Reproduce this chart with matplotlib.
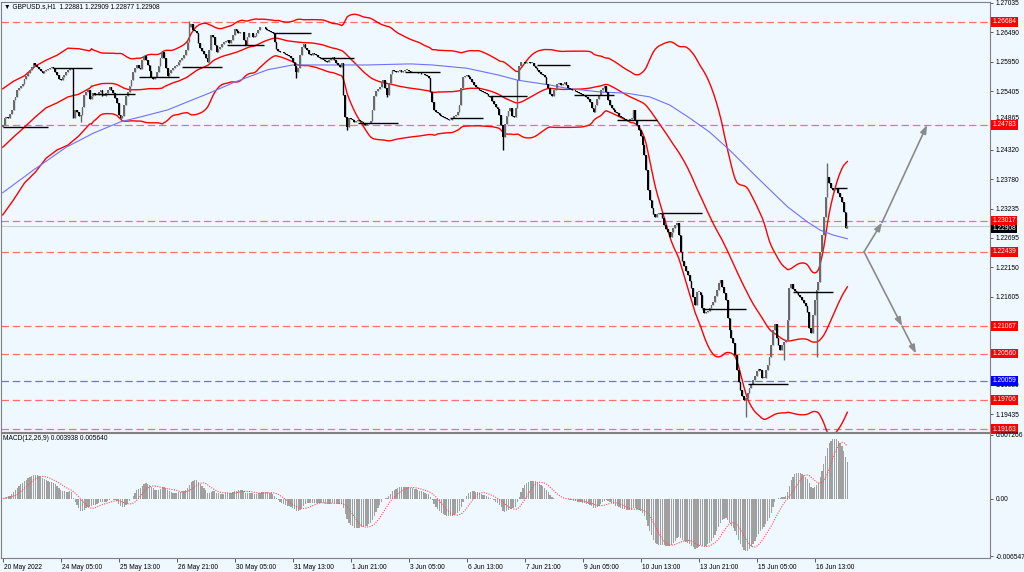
import numpy as np
import pandas as pd
import matplotlib
matplotlib.use("Agg")
import matplotlib.pyplot as plt
import matplotlib.transforms as mtransforms

plt.rcParams['font.family'] = ['Liberation Sans', 'DejaVu Sans']

symbol_title = "\u25bc GBPUSD.s,H1  1.22881 1.22909 1.22877 1.22908"
macd_title = "MACD(12,26,9) 0.003938 0.005640"

# hourly closes, 20 May 21:00 -> 17 Jun 08:00
first_open = 1.2474
closes = [
    1.2478, 1.2491, 1.2493, 1.2491, 1.2498, 1.2506, 1.2524, 1.2530, 1.2543, 1.2546,
    1.2550, 1.2554, 1.2563, 1.2569, 1.2574, 1.2580, 1.2585, 1.2593, 1.2589, 1.2585,
    1.2582, 1.2578, 1.2574, 1.2578, 1.2580, 1.2582, 1.2583, 1.2585, 1.2583, 1.2576,
    1.2570, 1.2563, 1.2561, 1.2567, 1.2570, 1.2576, 1.2580, 1.2583, 1.2582, 1.2491,
    1.2506, 1.2502, 1.2495, 1.2497, 1.2511, 1.2534, 1.2539, 1.2543, 1.2526, 1.2532,
    1.2537, 1.2534, 1.2534, 1.2539, 1.2543, 1.2532, 1.2532, 1.2537, 1.2543, 1.2548,
    1.2543, 1.2537, 1.2528, 1.2519, 1.2497, 1.2491, 1.2495, 1.2515, 1.2532, 1.2539,
    1.2550, 1.2561, 1.2576, 1.2583, 1.2589, 1.2583, 1.2582, 1.2598, 1.2606, 1.2598,
    1.2589, 1.2578, 1.2567, 1.2563, 1.2567, 1.2576, 1.2587, 1.2602, 1.2613, 1.2602,
    1.2583, 1.2569, 1.2574, 1.2580, 1.2583, 1.2587, 1.2589, 1.2594, 1.2598, 1.2602,
    1.2607, 1.2617, 1.2631, 1.2659, 1.2665, 1.2654, 1.2652, 1.2648, 1.2630, 1.2620,
    1.2615, 1.2609, 1.2602, 1.2594, 1.2617, 1.2644, 1.2641, 1.2626, 1.2613, 1.2619,
    1.2622, 1.2628, 1.2631, 1.2633, 1.2635, 1.2630, 1.2635, 1.2644, 1.2655, 1.2652,
    1.2648, 1.2650, 1.2650, 1.2635, 1.2626, 1.2641, 1.2648, 1.2648, 1.2641, 1.2643,
    1.2648, 1.2654, 1.2659, 1.2659, 1.2659, 1.2655, 1.2654, 1.2652, 1.2650, 1.2648,
    1.2631, 1.2619, 1.2615, 1.2613, 1.2613, 1.2611, 1.2609, 1.2607, 1.2606, 1.2602,
    1.2594, 1.2587, 1.2576, 1.2583, 1.2607, 1.2622, 1.2628, 1.2620, 1.2617, 1.2609,
    1.2607, 1.2611, 1.2609, 1.2607, 1.2604, 1.2602, 1.2600, 1.2598, 1.2596, 1.2594,
    1.2598, 1.2600, 1.2604, 1.2598, 1.2593, 1.2589, 1.2585, 1.2593, 1.2534, 1.2493,
    1.2474, 1.2491, 1.2489, 1.2487, 1.2484, 1.2486, 1.2487, 1.2486, 1.2484, 1.2480,
    1.2478, 1.2480, 1.2482, 1.2486, 1.2506, 1.2532, 1.2541, 1.2545, 1.2548, 1.2556,
    1.2561, 1.2546, 1.2534, 1.2556, 1.2572, 1.2580, 1.2578, 1.2576, 1.2578, 1.2580,
    1.2576, 1.2578, 1.2580, 1.2580, 1.2578, 1.2576, 1.2576, 1.2576, 1.2576, 1.2574,
    1.2574, 1.2572, 1.2572, 1.2570, 1.2569, 1.2565, 1.2539, 1.2521, 1.2506, 1.2502,
    1.2500, 1.2497, 1.2495, 1.2493, 1.2491, 1.2489, 1.2487, 1.2487, 1.2491, 1.2495,
    1.2497, 1.2502, 1.2515, 1.2546, 1.2567, 1.2569, 1.2570, 1.2567, 1.2563, 1.2558,
    1.2552, 1.2548, 1.2546, 1.2543, 1.2541, 1.2539, 1.2537, 1.2535, 1.2532, 1.2530,
    1.2523, 1.2517, 1.2511, 1.2508, 1.2497, 1.2478, 1.2456, 1.2480, 1.2495, 1.2504,
    1.2510, 1.2495, 1.2493, 1.2510, 1.2561, 1.2587, 1.2594, 1.2594, 1.2593, 1.2594,
    1.2594, 1.2593, 1.2593, 1.2587, 1.2583, 1.2580, 1.2576, 1.2572, 1.2570, 1.2567,
    1.2554, 1.2546, 1.2535, 1.2532, 1.2543, 1.2546, 1.2554, 1.2556, 1.2552, 1.2554,
    1.2558, 1.2552, 1.2546, 1.2545, 1.2543, 1.2543, 1.2541, 1.2539, 1.2537, 1.2535,
    1.2534, 1.2532, 1.2530, 1.2526, 1.2521, 1.2510, 1.2502, 1.2515, 1.2526, 1.2534,
    1.2543, 1.2546, 1.2550, 1.2539, 1.2524, 1.2515, 1.2510, 1.2506, 1.2502, 1.2500,
    1.2495, 1.2493, 1.2491, 1.2489, 1.2487, 1.2487, 1.2489, 1.2491, 1.2506, 1.2487,
    1.2478, 1.2469, 1.2458, 1.2441, 1.2423, 1.2395, 1.2358, 1.2340, 1.2325, 1.2314,
    1.2308, 1.2314, 1.2316, 1.2314, 1.2306, 1.2293, 1.2286, 1.2281, 1.2271, 1.2281,
    1.2288, 1.2293, 1.2297, 1.2275, 1.2244, 1.2227, 1.2218, 1.2208, 1.2201, 1.2190,
    1.2177, 1.2160, 1.2146, 1.2170, 1.2170, 1.2164, 1.2140, 1.2131, 1.2133, 1.2135,
    1.2140, 1.2146, 1.2151, 1.2162, 1.2173, 1.2186, 1.2192, 1.2179, 1.2168, 1.2155,
    1.2122, 1.2100, 1.2085, 1.2076, 1.2053, 1.2026, 1.2003, 1.1989, 1.1978, 1.1970,
    1.1974, 1.1983, 1.1992, 1.2000, 1.2007, 1.2015, 1.2024, 1.2027, 1.2026, 1.2011,
    1.2011, 1.2026, 1.2035, 1.2050, 1.2072, 1.2100, 1.2111, 1.2085, 1.2072, 1.2063,
    1.2072, 1.2077, 1.2081, 1.2118, 1.2177, 1.2184, 1.2175, 1.2172, 1.2168, 1.2164,
    1.2160, 1.2155, 1.2149, 1.2144, 1.2133, 1.2103, 1.2094, 1.2127, 1.2155, 1.2173,
    1.2188, 1.2244, 1.2275, 1.2308, 1.2345, 1.2382, 1.2371, 1.2362, 1.2358, 1.2360,
    1.2362, 1.2353, 1.2345, 1.2336, 1.2318, 1.2288, 1.22908,
]

# long wicks visible on the chart
spike_idx = [43, 103, 162, 190, 212, 276, 410, 431, 449, 455]
spike_px = [1.2484, 1.2670, 1.2565, 1.2469, 1.2530, 1.2432, 1.1939, 1.2044, 1.2050, 1.2408]

# bollinger bands before enough bars are on screen
bb_head_idx = [0, 6, 12, 18, 24, 30, 36, 42, 48]
bb_head_up = [1.2545, 1.2559, 1.2569, 1.2587, 1.2598, 1.2607, 1.2620, 1.2619, 1.2615]
bb_head_mid = [1.2437, 1.2456, 1.2474, 1.2493, 1.2510, 1.2519, 1.2530, 1.2535, 1.2546]
bb_head_lo = [1.2312, 1.2340, 1.2371, 1.2391, 1.2417, 1.2432, 1.2441, 1.2458, 1.2480]

# slow moving average (blue)
ma_idx = [0, 17, 35, 50, 65, 76, 91, 102, 114, 127, 146, 160, 186, 201, 225, 237,
          256, 274, 284, 302, 311, 330, 344, 357, 368, 379, 390, 401, 416, 433,
          444, 451, 458, 466]
ma_px = [1.2353, 1.2395, 1.2437, 1.2463, 1.2484, 1.2493, 1.2506, 1.2521, 1.2537,
         1.2556, 1.2580, 1.2589, 1.2589, 1.2589, 1.2591, 1.2589, 1.2583, 1.2570,
         1.2561, 1.2552, 1.2546, 1.2539, 1.2537, 1.2530, 1.2515, 1.2491, 1.2465,
         1.2432, 1.2382, 1.2327, 1.2299, 1.2284, 1.2275, 1.2268]

# daily open segments
day_start = [0, 28, 50, 75, 99, 124, 149, 175, 196, 222, 247, 269, 295, 315, 339, 364, 386, 411, 436, 459]
day_end = [25, 49, 73, 97, 121, 144, 170, 194, 218, 241, 265, 289, 313, 337, 361, 386, 410, 433, 458, 466]
day_open = [1.2474, 1.2583, 1.2535, 1.2567, 1.2585, 1.2626, 1.2648, 1.2602, 1.2482, 1.2576,
            1.2491, 1.2532, 1.2589, 1.2534, 1.2487, 1.2316, 1.2138, 1.1999, 1.2170, 1.2362]

red_levels = [1.26684, 1.24783, 1.23017, 1.22439, 1.21067, 1.20560, 1.19706, 1.19163]
blue_levels = [1.20059]
last_price = 1.22908

# projection arrows (bar index, price)
arrow_up_idx = [475.2, 485.1, 510.0]
arrow_up_px = [1.22439, 1.2298, 1.24783]
arrow_dn_idx = [475.2, 496.2, 503.9]
arrow_dn_px = [1.22439, 1.21067, 1.20560]

price_ticks = [1.27035, 1.26490, 1.25950, 1.25405, 1.24865, 1.24320, 1.23780, 1.23235,
               1.22695, 1.22150, 1.21605, 1.21065, 1.20520, 1.19980, 1.19435]
# these two sit fully under the level boxes on the original
hidden_ticks = [1.21065, 1.20520]
macd_ticks = [0.007266, 0.0, -0.006547]
macd_tick_labels = ['0.007266', '0.00', '-0.006547']
time_labels = ['20 May 2022', '24 May 05:00', '25 May 13:00', '26 May 21:00', '30 May 05:00',
               '31 May 13:00', '1 Jun 21:00', '3 Jun 05:00', '6 Jun 13:00', '7 Jun 21:00',
               '9 Jun 05:00', '10 Jun 13:00', '13 Jun 21:00', '15 Jun 05:00', '16 Jun 13:00']
time_step = 32

BG = '#F0F8FF'
FS = 4.8

#############################################
##            indicators                   ##
#############################################
c = np.array(closes)
n = len(c)
idx = np.arange(n)
o = np.r_[first_open, c[:-1]]
hi = np.maximum(o, c)
lo = np.minimum(o, c)
for k, p in zip(spike_idx, spike_px):
    hi[k] = max(hi[k], p)
    lo[k] = min(lo[k], p)

s = pd.Series(c)
bb_mid = s.rolling(50).mean()
bb_sd = s.rolling(50).std(ddof=0)
bb_up = bb_mid + 2 * bb_sd
bb_lo = bb_mid - 2 * bb_sd

ema12 = s.ewm(span=12, adjust=False).mean()
ema26 = s.ewm(span=26, adjust=False).mean()
macd = ema12 - ema26
signal = macd.rolling(9, min_periods=1).mean()

#############################################
##            figure                       ##
#############################################
fig = plt.figure(figsize=(10.24, 5.72), dpi=100, facecolor=BG)
ax = fig.add_axes([1 / 1024, 140 / 572, 989 / 1024, 430 / 572], facecolor=BG)
ax2 = fig.add_axes([1 / 1024, 14 / 572, 989 / 1024, 125 / 572], facecolor=BG)

xlim = (-0.94, 544.7)
ax.set_xlim(xlim)
ax2.set_xlim(xlim)
ax.set_ylim(1.19111, 1.27053)
ax2.set_ylim(-0.006775, 0.007494)

# horizontal levels
for lv in red_levels:
    ax.axhline(lv, color='#ff7070', lw=0.9, dashes=(6, 3), zorder=1)
for lv in blue_levels:
    ax.axhline(lv, color='#6f6fff', lw=0.9, dashes=(6, 3), zorder=1)
ax.axhline(last_price, color='#c8c8c8', lw=0.8, zorder=1)

# bands and average
ax.plot(idx, bb_up, color='red', lw=1.0, zorder=2)
ax.plot(idx, bb_mid, color='red', lw=1.0, zorder=2)
ax.plot(idx, bb_lo, color='red', lw=1.0, zorder=2)
for head, line in [(bb_head_up, bb_up), (bb_head_mid, bb_mid), (bb_head_lo, bb_lo)]:
    ax.plot(bb_head_idx + [49], head + [line[49]], color='red', lw=1.0, zorder=2)
ax.plot(ma_idx, ma_px, color='#7070ff', lw=0.8, zorder=2)

# candles
up = c >= o
cols = np.where(up, '#6a6a6a', '#000000')
ax.vlines(idx, lo, hi, colors=cols, lw=1.0, zorder=3)
ax.bar(idx, np.maximum(np.abs(c - o), 0.00008), bottom=np.minimum(o, c),
       width=0.95, color=cols, zorder=3)

ax.hlines(day_open, day_start, day_end, colors='black', lw=1.0, zorder=4)

# arrows
for xs, ys in [(arrow_up_idx, arrow_up_px), (arrow_dn_idx, arrow_dn_px)]:
    for k in range(len(xs) - 1):
        ax.annotate('', xy=(xs[k + 1], ys[k + 1]), xytext=(xs[k], ys[k]),
                    arrowprops=dict(arrowstyle='-|>,head_length=0.5,head_width=0.18',
                                    color='#8a8a8a', lw=1.2, shrinkA=0, shrinkB=0),
                    zorder=5)

# axes cosmetics
for a in (ax, ax2):
    for sp in a.spines.values():
        sp.set_color('#808080')
        sp.set_linewidth(0.8)
    a.yaxis.tick_right()
    a.tick_params(axis='y', direction='out', length=2.5, width=0.6, pad=1.5,
                  labelsize=FS, colors='#404040', labelcolor='black')

ax.set_xticks([])
ax.set_yticks(price_ticks)
ax.set_yticklabels(['' if t in hidden_ticks else f'{t:.5f}' for t in price_ticks])

# 1.24865 peeks out just above the 1.24783 box: lift it a touch
lift = mtransforms.ScaledTranslation(0, 2.5 / 100, fig.dpi_scale_trans)
for t, lbl in zip(price_ticks, ax.get_yticklabels()):
    if t == 1.24865:
        lbl.set_transform(lbl.get_transform() + lift)

ax2.set_yticks(macd_ticks)
ax2.set_yticklabels(macd_tick_labels)

# right side labels for the levels
trans = mtransforms.blended_transform_factory(ax.transAxes, ax.transData)
for lv in red_levels:
    ax.text(1.0025, lv, f'{lv:.5f}', transform=trans, fontsize=FS, color='white',
            va='center', ha='left', zorder=10,
            bbox=dict(boxstyle='square,pad=0.2', fc='#ff0000', ec='none'))
for lv in blue_levels:
    ax.text(1.0025, lv, f'{lv:.5f}', transform=trans, fontsize=FS, color='white',
            va='center', ha='left', zorder=10,
            bbox=dict(boxstyle='square,pad=0.2', fc='#0000ff', ec='none'))
ax.text(1.0025, last_price - 0.0004, f'{last_price:.5f}', transform=trans, fontsize=FS,
        color='white', va='center', ha='left', zorder=9,
        bbox=dict(boxstyle='square,pad=0.2', fc='black', ec='none'))

# MACD panel
ax2.bar(idx, macd, width=0.7, color='#a0a0a0', zorder=2)
ax2.plot(idx, signal, color='#ff5050', lw=0.8, ls=(0, (1, 1.2)), zorder=3)

ax2.set_xticks(np.arange(len(time_labels)) * time_step)
ax2.set_xticklabels(time_labels)
ax2.tick_params(axis='x', direction='out', length=3, width=0.6, pad=1.5,
                labelsize=FS, colors='#404040', labelcolor='black')
offset = mtransforms.ScaledTranslation(1.5 / 100, 0, fig.dpi_scale_trans)
for lbl in ax2.get_xticklabels():
    lbl.set_horizontalalignment('left')
    lbl.set_transform(lbl.get_transform() + offset)

fig.text(4 / 1024, 1 - 7 / 572, symbol_title, fontsize=FS, va='center', ha='left')
fig.text(3 / 1024, 1 - 438 / 572, macd_title, fontsize=FS, va='center', ha='left')

fig.savefig('out.png', dpi=100, facecolor=BG)
